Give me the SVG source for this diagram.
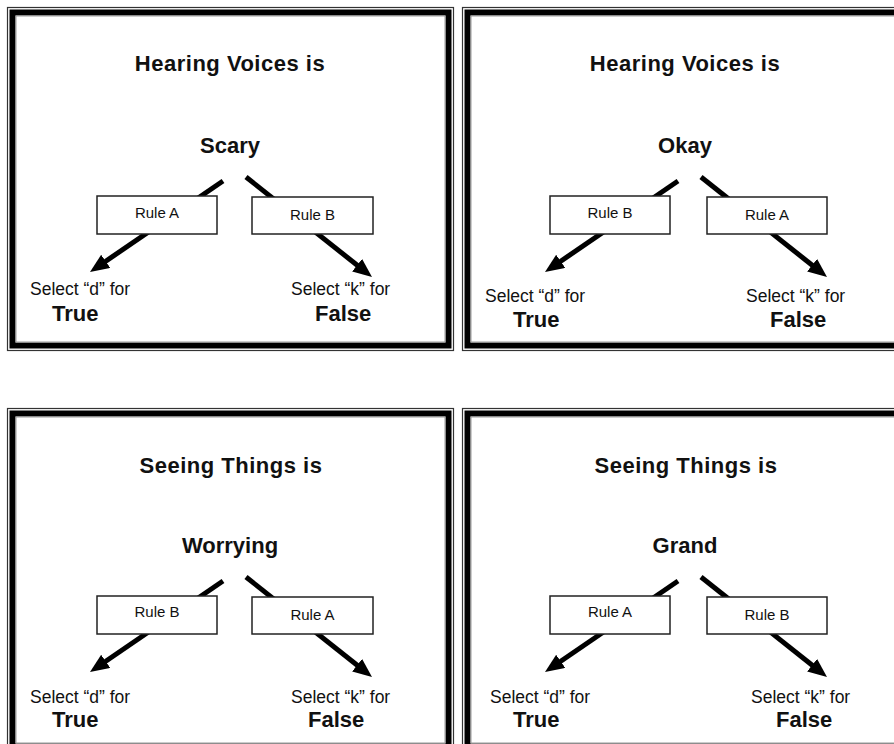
<svg xmlns="http://www.w3.org/2000/svg" width="894" height="744" viewBox="0 0 894 744">
<style>
  .outer{fill:none;stroke:#333;stroke-width:1.2}
  .thick{fill:none;stroke:#000;stroke-width:6}
  .inner{fill:none;stroke:#999;stroke-width:1}
  .box{fill:#fff;stroke:#222;stroke-width:1.5}
  .t{font-family:"Liberation Sans",Arial,sans-serif;fill:#111}
  .title{font-size:22px;font-weight:bold;text-anchor:middle;letter-spacing:0.5px}
  .word{font-size:22px;font-weight:bold;text-anchor:middle}
  .rule{font-size:15px;text-anchor:middle}
  .sel{font-size:17.5px}
  .ans{font-size:22px;font-weight:bold}
  .arr{stroke:#000;stroke-width:5;fill:none;marker-end:url(#ah)}
</style>
<defs>
  <marker id="ah" markerUnits="userSpaceOnUse" markerWidth="20" markerHeight="17" refX="7" refY="8" orient="auto">
    <path d="M0,0 L19,8 L0,16 z" fill="#000"/>
  </marker>
</defs>
<rect width="894" height="744" fill="#fff"/>

<g id="frames">
  <g id="frame1">
    <rect class="outer" x="7.5" y="7.5" width="446" height="343"/>
    <rect class="thick" x="12.5" y="12.5" width="436" height="333"/>
    <rect class="inner" x="16" y="16" width="429" height="326"/>
  </g>
  <g id="frame2">
    <rect class="outer" x="462.5" y="7.5" width="446" height="343"/>
    <rect class="thick" x="467.5" y="12.5" width="436" height="333"/>
    <rect class="inner" x="471" y="16" width="429" height="326"/>
  </g>
  <g id="frame3">
    <rect class="outer" x="7.5" y="408.5" width="446" height="343"/>
    <rect class="thick" x="12.5" y="413.5" width="436" height="333"/>
    <rect class="inner" x="16" y="417" width="429" height="326"/>
  </g>
  <g id="frame4">
    <rect class="outer" x="462.5" y="408.5" width="446" height="343"/>
    <rect class="thick" x="467.5" y="413.5" width="436" height="333"/>
    <rect class="inner" x="471" y="417" width="429" height="326"/>
  </g>
</g>

<g id="connectors">
  <line class="arr" x1="223" y1="181" x2="99.9" y2="265.2"/>
  <line class="arr" x1="246" y1="177" x2="362.6" y2="269.5"/>
  <line class="arr" x1="678" y1="181" x2="554.9" y2="265.2"/>
  <line class="arr" x1="701" y1="177" x2="817.6" y2="269.5"/>
  <line class="arr" x1="223" y1="581" x2="99.9" y2="665.2"/>
  <line class="arr" x1="246" y1="577" x2="362.6" y2="669.5"/>
  <line class="arr" x1="678" y1="581" x2="554.9" y2="665.2"/>
  <line class="arr" x1="701" y1="577" x2="817.6" y2="669.5"/>
</g>

<g id="panel1">
  <g id="p1-title"><text class="t title" x="230" y="71">Hearing Voices is</text></g>
  <g id="p1-word"><text class="t word" x="230" y="153">Scary</text></g>
  <g id="p1-ruleL"><rect class="box" x="97" y="196" width="120" height="38"/><text class="t rule" x="157" y="218">Rule A</text></g>
  <g id="p1-ruleR"><rect class="box" x="252" y="197" width="121" height="37"/><text class="t rule" x="312.5" y="220">Rule B</text></g>
  <g id="p1-true"><text class="t sel" x="30" y="295">Select “d” for</text><text class="t ans" x="52" y="321">True</text></g>
  <g id="p1-false"><text class="t sel" x="291" y="295">Select “k” for</text><text class="t ans" x="315" y="321">False</text></g>
</g>

<g id="panel2">
  <g id="p2-title"><text class="t title" x="685" y="71">Hearing Voices is</text></g>
  <g id="p2-word"><text class="t word" x="685" y="153">Okay</text></g>
  <g id="p2-ruleL"><rect class="box" x="550" y="196" width="120" height="38"/><text class="t rule" x="610" y="218">Rule B</text></g>
  <g id="p2-ruleR"><rect class="box" x="707" y="197" width="120" height="37"/><text class="t rule" x="767" y="220">Rule A</text></g>
  <g id="p2-true"><text class="t sel" x="485" y="302">Select “d” for</text><text class="t ans" x="513" y="327">True</text></g>
  <g id="p2-false"><text class="t sel" x="746" y="302">Select “k” for</text><text class="t ans" x="770" y="327">False</text></g>
</g>

<g id="panel3">
  <g id="p3-title"><text class="t title" x="231" y="473">Seeing Things is</text></g>
  <g id="p3-word"><text class="t word" x="230" y="553">Worrying</text></g>
  <g id="p3-ruleL"><rect class="box" x="97" y="596" width="120" height="38"/><text class="t rule" x="157" y="617">Rule B</text></g>
  <g id="p3-ruleR"><rect class="box" x="252" y="597" width="121" height="37"/><text class="t rule" x="312.5" y="620">Rule A</text></g>
  <g id="p3-true"><text class="t sel" x="30" y="703">Select “d” for</text><text class="t ans" x="52" y="727">True</text></g>
  <g id="p3-false"><text class="t sel" x="291" y="703">Select “k” for</text><text class="t ans" x="308" y="727">False</text></g>
</g>

<g id="panel4">
  <g id="p4-title"><text class="t title" x="686" y="473">Seeing Things is</text></g>
  <g id="p4-word"><text class="t word" x="685" y="553">Grand</text></g>
  <g id="p4-ruleL"><rect class="box" x="550" y="596" width="120" height="38"/><text class="t rule" x="610" y="617">Rule A</text></g>
  <g id="p4-ruleR"><rect class="box" x="707" y="597" width="120" height="37"/><text class="t rule" x="767" y="620">Rule B</text></g>
  <g id="p4-true"><text class="t sel" x="490" y="703">Select “d” for</text><text class="t ans" x="513" y="727">True</text></g>
  <g id="p4-false"><text class="t sel" x="751" y="703">Select “k” for</text><text class="t ans" x="776" y="727">False</text></g>
</g>
</svg>
